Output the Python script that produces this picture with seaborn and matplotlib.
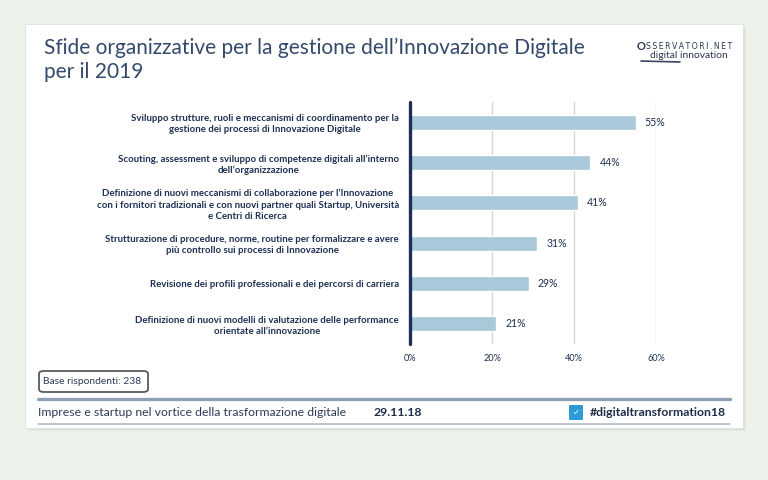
import matplotlib
matplotlib.use("Agg")
import matplotlib.pyplot as plt
import seaborn as sns
import pandas as pd
from matplotlib.patches import Rectangle, FancyBboxPatch
from matplotlib.lines import Line2D

# ---------------- data ----------------
categories = [
    "Sviluppo strutture, ruoli e meccanismi di coordinamento per la\ngestione dei processi di Innovazione Digitale",
    "Scouting, assessment e sviluppo di competenze digitali all’interno\ndell’organizzazione",
    "Definizione di nuovi meccanismi di collaborazione per l’Innovazione\ncon i fornitori tradizionali e con nuovi partner quali Startup, Università\ne Centri di Ricerca",
    "Strutturazione di procedure, norme, routine per formalizzare e avere\npiù controllo sui processi di Innovazione",
    "Revisione dei profili professionali e dei percorsi di carriera",
    "Definizione di nuovi modelli di valutazione delle performance\norientate all’innovazione",
]
values = [55, 44, 41, 31, 29, 21]
xticks = [0, 20, 40, 60]
xtick_labels = ["0%", "20%", "40%", "60%"]
title_line1 = "Sfide organizzative per la gestione dell’Innovazione Digitale"
title_line2 = "per il 2019"
base_text = "Base rispondenti: 238"
footer_left = "Imprese e startup nel vortice della trasformazione digitale"
footer_date = "29.11.18"
footer_hashtag = "#digitaltransformation18"

# ---------------- style ----------------
W, H = 768, 480
BG = "#edf2eb"
BAR = "#a9c9da"
NAVY = "#1d2f52"
TITLE = "#34496b"
FONT = "Lato"

sns.set_theme(style="white")
plt.rcParams["font.family"] = [FONT, "DejaVu Sans"]

fig = plt.figure(figsize=(W / 100, H / 100), dpi=100, facecolor=BG)


def fx(x):
    return x / W


def fy(y):
    return 1 - y / H


# card shadow + card
for i, a in enumerate([0.10, 0.08, 0.06]):
    off = i + 1
    fig.patches.append(Rectangle((fx(25 + off), fy(428 + off)), (743 - 25) / W, (428 - 24) / H,
                                 transform=fig.transFigure, facecolor="#6f7a70", alpha=a,
                                 edgecolor="none", zorder=-3))
fig.patches.append(Rectangle((fx(25), fy(428)), (743 - 25) / W, (428 - 24) / H,
                             transform=fig.transFigure, facecolor="white",
                             edgecolor="#dfe3de", lw=0.6, zorder=-2))

# ---------------- chart ----------------
ax = fig.add_axes([fx(410), fy(344), (656 - 410) / W, (344 - 102) / H])
ax.set_facecolor("none")
df = pd.DataFrame({"category": categories, "value": values})
sns.barplot(data=df, x="value", y="category", orient="h", color=BAR, saturation=1,
            width=0.37, ax=ax, zorder=3)

ax.set_xlim(0, 60)
ax.set_ylim(len(categories) - 0.5, -0.5)
ax.set_xlabel("")
ax.set_ylabel("")
ax.set_xticks(xticks)
ax.set_xticklabels(xtick_labels, fontsize=6.6, color=NAVY)
for t in xticks[1:]:
    ax.axvline(t, color="#d6d6d6", lw=1.0, zorder=1)
ax.grid(False)

for s in ["top", "right", "bottom"]:
    ax.spines[s].set_visible(False)
ax.spines["left"].set_color(NAVY)
ax.spines["left"].set_linewidth(2.4)
ax.spines["left"].set_capstyle("round")
ax.spines["left"].set_zorder(5)

ax.tick_params(axis="x", length=0, pad=7)
ax.tick_params(axis="y", which="major", length=0, pad=8)
ax.set_yticks([i - 0.5 for i in range(len(categories) + 1)], minor=True)
ax.tick_params(axis="y", which="minor", length=2.5, width=1.8, color=NAVY, direction="out")

ax.set_yticks(range(len(categories)))
ax.set_yticklabels(categories, fontsize=6.9, fontweight="bold", color=NAVY,
                   ha="right", multialignment="center", linespacing=1.3)

for i, v in enumerate(values):
    ax.text(v + 2.2, i, f"{v}%", va="center", ha="left", fontsize=7.6, color=NAVY, clip_on=False)

# ---------------- texts ----------------
fig.text(fx(44), fy(54), title_line1, fontsize=15.0, color=TITLE, va="baseline", ha="left")
fig.text(fx(44), fy(78), title_line2, fontsize=15.0, color=TITLE, va="baseline", ha="left")

# logo
fig.text(fx(637), fy(49.5), "O", fontsize=8, fontweight="bold", color="#2a3550", va="baseline")
fig.text(fx(646), fy(49), "S S E R V A T O R I . N E T".replace(" ", "\u2009"), fontsize=5.6,
         color="#2a3550", va="baseline", family=["DejaVu Sans"])
fig.text(fx(650), fy(57.5), "digital innovation", fontsize=7.4, color="#2a3550", va="baseline")
fig.lines.append(Line2D([fx(641), fx(680)], [fy(61), fy(62)], transform=fig.transFigure,
                        color="#3b4663", lw=1.2, solid_capstyle="round"))

# base box
fig.patches.append(FancyBboxPatch((fx(39), fy(392)), (148 - 39) / W, (392 - 371) / H,
                                  boxstyle="round,pad=0,rounding_size=0.006",
                                  transform=fig.transFigure, facecolor="white",
                                  edgecolor="#555a60", lw=1.3, zorder=2))
fig.text(fx(43), fy(381.5), base_text, fontsize=7.4, color="#2a3a55", va="center", ha="left")

# footer lines
fig.lines.append(Line2D([fx(38), fx(730)], [fy(399), fy(399)], transform=fig.transFigure,
                        color="#8f9fb4", lw=2.4))
fig.lines.append(Line2D([fx(38), fx(730)], [fy(423.5), fy(423.5)], transform=fig.transFigure,
                        color="#b8c2ce", lw=1.3))

fig.text(fx(38), fy(412), footer_left, fontsize=8.8, color="#2d3c58", va="center", ha="left")
fig.text(fx(374), fy(412), footer_date, fontsize=8.8, fontweight="bold", color="#1f2d48",
         va="center", ha="left")

fig.patches.append(FancyBboxPatch((fx(569), fy(420)), 14 / W, 15 / H,
                                  boxstyle="round,pad=0,rounding_size=0.002",
                                  transform=fig.transFigure, facecolor="#2f9bd6",
                                  edgecolor="none", zorder=2))
fig.text(fx(576), fy(412.5), "✓", fontsize=6, color="white", va="center", ha="center",
         family=["DejaVu Sans"])
fig.text(fx(590), fy(412), footer_hashtag, fontsize=8.8, fontweight="bold", color="#1f2d48",
         va="center", ha="left")

fig.savefig("out.png", dpi=100, facecolor=BG)
